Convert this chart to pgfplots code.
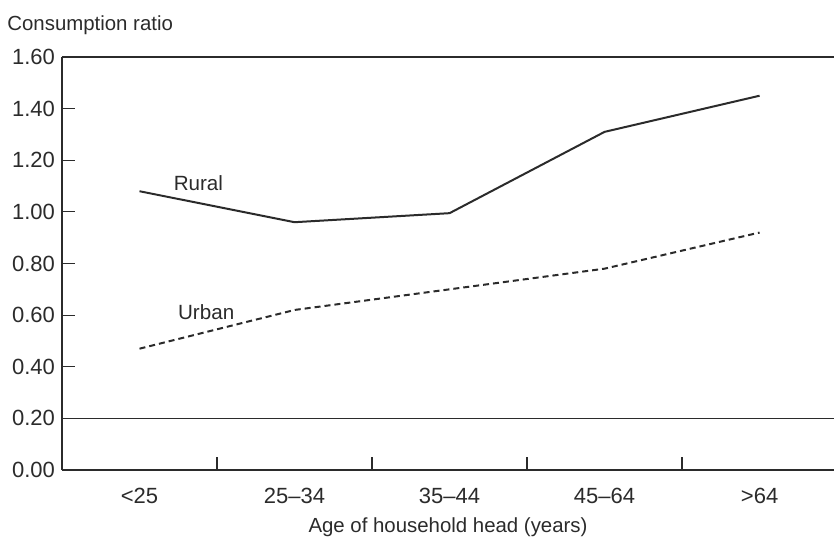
\documentclass[border=0pt]{standalone}
\usepackage{pgfplots}
\pgfplotsset{compat=1.18}
\usepackage{fontspec}
\setmainfont{Liberation Sans}
\definecolor{ink}{HTML}{2B2B2B}
\begin{document}
\begin{tikzpicture}
\begin{axis}[
  name=ax,
  scale only axis,
  width=386pt, height=206.5pt,
  xmin=-0.5, xmax=4.48,
  ymin=0, ymax=1.6,
  axis x line=bottom, axis y line=left,
  axis line style={ink, line width=0.7pt, -},
  ytick={0,0.2,...,1.61},
  yticklabel style={/pgf/number format/.cd, fixed, fixed zerofill, precision=2, assume math mode=true},
  xtick={0.5,1.5,2.5,3.5},
  xticklabels={},
  extra x ticks={0,1,2,3,4},
  extra x tick labels={<25,25--34,35--44,45--64,>64},
  extra x tick style={major tick length=0pt, tick label style={yshift=-5.5pt}},
  tick align=inside,
  major tick length=6.5pt,
  tick style={ink, line width=0.6pt},
  ticklabel style={font=\fontsize{11}{13}\selectfont, text=ink},
  clip=false,
]
\addplot[ink, line width=1pt] coordinates {(0,1.08) (1,0.96) (2,0.995) (3,1.31) (4,1.45)};
\addplot[ink, line width=1pt, dash pattern=on 3pt off 2pt] coordinates {(0,0.47) (1,0.62) (2,0.70) (3,0.78) (4,0.92)};
\draw[ink, line width=0.7pt] (axis cs:-0.5,0.2) -- (axis cs:4.48,0.2);
\draw[ink, line width=0.7pt] (axis cs:-0.5,1.6) -- (axis cs:4.48,1.6);
\node[text=ink, font=\fontsize{10.3}{12}\selectfont] at (axis cs:0.38,1.11) {Rural};
\node[text=ink, font=\fontsize{10.3}{12}\selectfont] at (axis cs:0.43,0.61) {Urban};
\end{axis}
\node[anchor=base west, text=ink, font=\fontsize{10.2}{12}\selectfont, inner sep=0pt] at ([xshift=-27.5pt, yshift=13.5pt]ax.north west) {Consumption ratio};
\node[anchor=center, text=ink, font=\fontsize{10.2}{12}\selectfont, inner sep=0pt] at ([yshift=-28.5pt]ax.south) {Age of household head (years)};
\pgfresetboundingbox
\path[use as bounding box] ([shift={(-31pt,-33.5pt)}]ax.south west) rectangle ([yshift=28.5pt]ax.north east);
\end{tikzpicture}
\end{document}
